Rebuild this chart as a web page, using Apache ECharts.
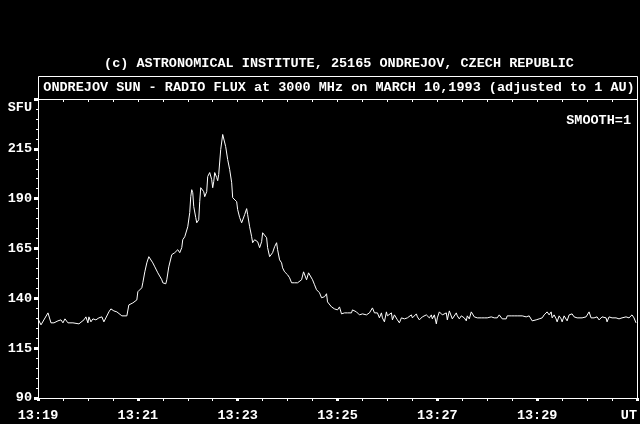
<!doctype html>
<html lang="en">
<head>
<meta charset="utf-8">
<title>Ondrejov Sun - Radio Flux 3000 MHz</title>
<script src="https://cdn.jsdelivr.net/npm/echarts@6/dist/echarts.min.js"></script>
<style>
    html, body { margin: 0; padding: 0; background: #000; }
    #chart { width: 640px; height: 424px; }
</style>
</head>
<body>
<div id="chart"></div>
<script type="text/javascript">
    // tick labels
    var xTickLabels = ['13:19', '13:21', '13:23', '13:25', '13:27', '13:29', 'UT'];
    var yTickLabels = ['90', '115', '140', '165', '190', '215'];

    // [minutes after 13:19 UT, flux in SFU]
    var quiet = [
        [0.00, 129.7], [0.06, 126.7], [0.20, 132.7], [0.26, 127.7], [0.32, 127.7], [0.40, 128.7], [0.42, 127.7],
        [0.46, 129.2], [0.50, 127.7], [0.54, 129.7], [0.60, 127.7], [0.62, 128.2], [0.70, 127.7], [0.74, 128.2],
        [0.82, 127.2], [0.86, 127.7], [0.92, 129.2], [0.96, 130.7], [1.00, 127.7], [1.02, 130.7], [1.06, 128.2],
        [1.10, 129.7], [1.16, 129.2], [1.22, 130.2], [1.28, 130.7], [1.32, 128.2], [1.36, 127.7], [1.42, 133.2],
        [1.46, 134.7], [1.52, 133.7], [1.58, 133.2], [1.62, 132.7], [1.68, 131.2], [1.72, 130.7], [1.78, 131.2],
        [1.82, 136.7], [1.86, 136.2], [1.90, 137.7], [1.94, 138.7]
    ];
    var rise = [
        [1.98, 139.2], [2.00, 143.3], [2.08, 145.3], [2.10, 147.8], [2.14, 153.3], [2.18, 157.8], [2.22, 160.9],
        [2.26, 160.9], [2.30, 157.8], [2.34, 155.8], [2.40, 152.8], [2.44, 151.8], [2.48, 149.3], [2.50, 147.8],
        [2.56, 147.3], [2.58, 149.3], [2.62, 155.8], [2.68, 161.9], [2.70, 160.9], [2.74, 162.9], [2.78, 161.9],
        [2.80, 164.4], [2.84, 162.9], [2.88, 165.4], [2.90, 169.4], [2.94, 170.9], [2.98, 171.9], [3.00, 175.9],
        [3.04, 183.0], [3.06, 191.0], [3.08, 194.5], [3.10, 193.0], [3.12, 186.0], [3.16, 180.5], [3.18, 177.9],
        [3.22, 179.4], [3.24, 188.5], [3.26, 195.5], [3.30, 196.0], [3.32, 193.5], [3.34, 191.0], [3.38, 193.5],
        [3.40, 201.1], [3.44, 203.1], [3.48, 199.5], [3.50, 195.5], [3.52, 198.5], [3.54, 203.1], [3.58, 200.6],
        [3.60, 199.0], [3.62, 202.1], [3.66, 214.6], [3.70, 222.2], [3.72, 221.2], [3.76, 216.1]
    ];
    var decay = [
        [3.80, 209.6], [3.84, 204.6], [3.88, 198.0], [3.90, 190.5], [3.94, 189.5], [3.98, 188.5], [4.00, 184.5],
        [4.04, 180.5], [4.08, 177.9], [4.10, 178.4], [4.14, 182.0], [4.18, 185.0], [4.20, 182.0], [4.24, 175.9],
        [4.28, 170.9], [4.30, 167.9], [4.34, 169.4], [4.38, 170.4], [4.40, 168.4], [4.44, 165.4], [4.48, 168.4],
        [4.50, 172.9], [4.54, 173.4], [4.58, 170.4], [4.60, 165.4], [4.64, 160.9], [4.68, 160.9], [4.70, 162.9],
        [4.74, 165.9], [4.78, 167.9], [4.80, 164.4], [4.84, 159.3], [4.88, 157.8], [4.90, 155.3], [4.94, 153.3],
        [4.98, 152.8], [5.00, 151.8], [5.04, 150.3], [5.08, 147.8], [5.10, 146.8], [5.14, 147.8], [5.18, 146.8],
        [5.20, 147.8], [5.24, 146.8], [5.28, 149.3], [5.32, 153.3], [5.36, 152.8], [5.38, 149.3], [5.42, 152.8],
        [5.46, 151.8], [5.50, 149.3], [5.54, 146.8], [5.58, 144.3], [5.60, 143.3], [5.64, 142.8], [5.68, 140.3],
        [5.70, 139.7], [5.74, 140.8], [5.78, 142.3], [5.80, 138.2], [5.84, 137.7], [5.88, 135.7], [5.90, 136.7],
        [5.94, 134.7], [5.98, 135.7], [6.00, 134.2]
    ];
    var tail = [
        [6.04, 135.7], [6.08, 132.2], [6.10, 133.2], [6.14, 132.7], [6.18, 133.2], [6.20, 132.7], [6.24, 133.7],
        [6.28, 132.7], [6.30, 134.2], [6.34, 133.7], [6.38, 133.2], [6.40, 132.7], [6.44, 131.7], [6.48, 130.7],
        [6.50, 132.2], [6.54, 132.7], [6.58, 131.7], [6.60, 132.7], [6.64, 132.7], [6.68, 133.2], [6.70, 135.2],
        [6.74, 132.7], [6.78, 131.7], [6.80, 132.7], [6.84, 130.2], [6.88, 132.7], [6.90, 130.2], [6.94, 128.2],
        [6.98, 133.2], [7.00, 131.2], [7.04, 130.2], [7.08, 132.7], [7.10, 129.2], [7.14, 131.7], [7.18, 132.7],
        [7.20, 129.2], [7.24, 127.7], [7.28, 130.2], [7.30, 130.7], [7.34, 129.7], [7.38, 130.7], [7.40, 130.2],
        [7.44, 131.2], [7.48, 131.7], [7.50, 130.2], [7.54, 131.2], [7.58, 132.2], [7.60, 130.7], [7.64, 129.2],
        [7.68, 130.2], [7.70, 130.7], [7.74, 129.7], [7.78, 131.7], [7.80, 130.7], [7.84, 130.2], [7.88, 131.7],
        [7.90, 129.7], [7.94, 131.7], [7.98, 127.2], [8.00, 130.2], [8.04, 133.2], [8.08, 132.2], [8.10, 131.7],
        [8.14, 130.7], [8.18, 132.7], [8.20, 129.2], [8.24, 133.7], [8.28, 132.7], [8.30, 129.7], [8.34, 128.7],
        [8.38, 132.7], [8.40, 131.2], [8.44, 129.7], [8.48, 131.2], [8.50, 131.7], [8.54, 130.2], [8.58, 128.7],
        [8.60, 131.2], [8.64, 129.7], [8.68, 133.2], [8.70, 132.7], [8.74, 130.7], [8.78, 131.2], [8.80, 130.2],
        [8.84, 131.2], [8.88, 130.2], [8.90, 130.7], [8.94, 130.2], [8.98, 131.2], [9.00, 130.2], [9.04, 131.2],
        [9.08, 130.7], [9.10, 131.7], [9.14, 130.2], [9.18, 131.2], [9.20, 130.2], [9.24, 131.7], [9.28, 130.7],
        [9.30, 129.7], [9.34, 130.2], [9.38, 129.7], [9.40, 131.2], [9.44, 132.2], [9.48, 131.2], [9.50, 132.2],
        [9.54, 131.2], [9.58, 132.2], [9.60, 131.2], [9.64, 132.2], [9.70, 131.2], [9.74, 132.2], [9.78, 130.7],
        [9.80, 131.7], [9.84, 131.2], [9.88, 130.2], [9.90, 128.7], [9.94, 127.7], [9.98, 129.2], [10.00, 129.7],
        [10.04, 129.7], [10.08, 130.7], [10.10, 130.2], [10.14, 131.7], [10.18, 132.7], [10.20, 133.2], [10.24, 131.7],
        [10.28, 133.2], [10.30, 130.2], [10.34, 131.7], [10.38, 129.7], [10.40, 128.2], [10.44, 131.2], [10.48, 129.7],
        [10.50, 128.2], [10.54, 131.2], [10.58, 130.2], [10.60, 128.7], [10.64, 131.7], [10.68, 130.7], [10.70, 132.2],
        [10.74, 130.7], [10.78, 131.2], [10.80, 130.2], [10.84, 130.2], [10.90, 130.2], [10.98, 130.7], [11.04, 133.2],
        [11.08, 130.2], [11.14, 130.2], [11.20, 130.7], [11.24, 129.2], [11.28, 128.2], [11.30, 130.7], [11.34, 131.7],
        [11.38, 130.2], [11.40, 128.2], [11.44, 130.7], [11.48, 131.2], [11.50, 130.2], [11.54, 129.2], [11.58, 130.2],
        [11.60, 130.7], [11.64, 129.7], [11.68, 129.2], [11.70, 130.2], [11.74, 129.7], [11.78, 130.7], [11.80, 130.2],
        [11.84, 130.2], [11.88, 131.2], [11.90, 131.7], [11.94, 130.2], [11.98, 127.7]
    ];

    var flux = quiet.concat(rise, decay, tail);
    var font = '"Liberation Mono", "DejaVu Sans Mono", monospace';
    var fontCss = 'bold 13.5px ' + font;
    var textStyle = { color: '#fff', fontFamily: font, fontSize: 13.5, fontWeight: 'bold' };

    var chart = echarts.init(document.getElementById('chart'));
    var option = {
        backgroundColor: '#000',
        animation: false,
        grid: { left: 38, right: 3, top: 99, bottom: 26, containLabel: false },
        graphic: [
            {
                type: 'rect',
                shape: { x: 38.5, y: 76.5, width: 599, height: 23 },
                style: { fill: 'none', stroke: '#fff', lineWidth: 1 }
            },
            {
                type: 'text', x: 339, y: 64,
                style: {
                    text: '(c) ASTRONOMICAL INSTITUTE, 25165 ONDREJOV, CZECH REPUBLIC',
                    fill: '#fff', font: fontCss, textAlign: 'center', textVerticalAlign: 'middle'
                }
            },
            {
                type: 'text', x: 339, y: 88,
                style: {
                    text: 'ONDREJOV SUN - RADIO FLUX at 3000 MHz on MARCH 10,1993 (adjusted to 1 AU)',
                    fill: '#fff', font: fontCss, textAlign: 'center', textVerticalAlign: 'middle'
                }
            },
            {
                type: 'text', x: 32, y: 108,
                style: { text: 'SFU', fill: '#fff', font: fontCss, textAlign: 'right', textVerticalAlign: 'middle' }
            },
            {
                type: 'text', x: 631, y: 121,
                style: { text: 'SMOOTH=1', fill: '#fff', font: fontCss, textAlign: 'right', textVerticalAlign: 'middle' }
            }
        ],
        xAxis: [{
            type: 'value',
            position: 'bottom',
            min: 0,
            max: 12,
            interval: 2,
            axisLine: { show: true, onZero: false, lineStyle: { color: '#fff', width: 1 } },
            axisTick: { show: true, length: 3, lineStyle: { color: '#fff', width: 3 } },
            minorTick: { show: true, splitNumber: 4, length: 3, lineStyle: { color: '#fff', width: 1 } },
            splitLine: { show: false },
            minorSplitLine: { show: false },
            axisLabel: Object.assign({
                margin: 11,
                showMinLabel: true,
                showMaxLabel: true,
                alignMaxLabel: 'right',
                formatter: function (v) { return xTickLabels[Math.round(v / 2)]; }
            }, textStyle)
        }, {
            type: 'value',
            position: 'top',
            min: 0,
            max: 12,
            interval: 0.5,
            axisLine: { show: true, onZero: false, lineStyle: { color: '#fff', width: 1 } },
            axisTick: { show: true, inside: true, length: 3, lineStyle: { color: '#fff', width: 1 } },
            axisLabel: { show: false },
            splitLine: { show: false }
        }],
        yAxis: [{
            type: 'value',
            position: 'left',
            min: 90,
            max: 240,
            interval: 25,
            axisLine: { show: true, onZero: false, lineStyle: { color: '#fff', width: 1 } },
            axisTick: { show: true, length: 4, lineStyle: { color: '#fff', width: 3 } },
            minorTick: { show: true, splitNumber: 5, length: 2, lineStyle: { color: '#fff', width: 1 } },
            splitLine: { show: false },
            minorSplitLine: { show: false },
            axisLabel: Object.assign({
                margin: 6,
                formatter: function (v) {
                    var i = Math.round((v - 90) / 25);
                    return yTickLabels[i] || '';
                }
            }, textStyle)
        }, {
            type: 'value',
            position: 'right',
            min: 90,
            max: 240,
            axisLine: { show: true, onZero: false, lineStyle: { color: '#fff', width: 1 } },
            axisTick: { show: false },
            axisLabel: { show: false },
            splitLine: { show: false }
        }],
        series: [{
            type: 'line',
            xAxisIndex: 0,
            yAxisIndex: 0,
            data: flux,
            showSymbol: false,
            silent: true,
            lineStyle: { color: '#fff', width: 1 }
        }]
    };
    chart.setOption(option);
</script>
</body>
</html>
